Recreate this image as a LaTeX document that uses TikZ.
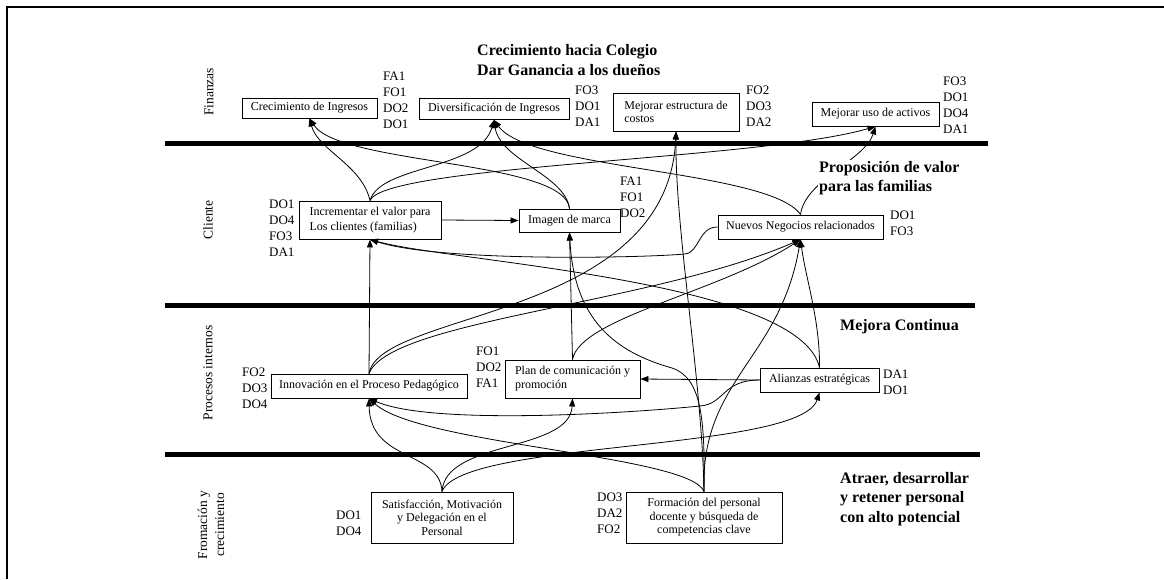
\documentclass[tikz,border=0pt]{standalone}
\usepackage{fontspec}
\setmainfont{Liberation Serif}
\usetikzlibrary{arrows.meta}
\begin{document}
\begin{tikzpicture}[x=1pt,y=-1pt,
  box/.style={draw, line width=0.9pt, fill=white, inner sep=0pt, align=left,
    font=\fontsize{12}{14}\selectfont},
  codes/.style={anchor=west, inner sep=0pt, align=left, font=\fontsize{13}{16}\selectfont},
  head/.style={anchor=west, inner sep=0pt, align=left, font=\fontsize{16}{19.5}\selectfont\bfseries},
  lane/.style={rotate=90, inner sep=0pt, align=center, font=\fontsize{13.5}{17}\selectfont},
  divider/.style={line width=5pt},
  link/.style={line width=0.8pt, -{Triangle[length=8pt,width=6pt]}},
]
\useasboundingbox (0,0) rectangle (1164,579);

% outer frame
\draw[line width=2.2pt] (7,579) -- (7,7) -- (1164,7);

% perspective dividers
\draw[divider] (165,143) -- (988,143);
\draw[divider] (165,305) -- (975,305);
\draw[divider] (165,454) -- (980,454);

% perspective names
\node[lane] (lFin) at (209,92) {Finanzas};
\node[lane] (lCli) at (208,220) {Cliente};
\node[lane] (lPro) at (208,373) {Procesos internos};
\node[lane] (lFor) at (211,525) {Fromación y\\crecimiento};

% objectives
\node[box, minimum width=135pt, minimum height=20pt] (creci) at (309.5,108) {Crecimiento de Ingresos};
\node[box, minimum width=150pt, minimum height=21pt] (divers) at (494,109) {Diversificación de Ingresos};
\node[box, minimum width=126pt, minimum height=38pt, font=\fontsize{12}{12.5}\selectfont] (mejEst) at (676,112) {Mejorar estructura de\\costos};
\node[box, minimum width=127pt, minimum height=24pt] (uso) at (875.5,114) {Mejorar uso de activos};

\node[box, minimum width=142pt, minimum height=38pt, font=\fontsize{12}{15}\selectfont] (incr) at (370,220) {Incrementar el valor para\\Los clientes (familias)};
\node[box, minimum width=101pt, minimum height=23pt] (imagen) at (569.5,220.5) {Imagen de marca};
\node[box, minimum width=165pt, minimum height=24pt] (nuevos) at (800.5,227) {Nuevos Negocios relacionados};

\node[box, minimum width=196pt, minimum height=24pt] (innov) at (369,386) {Innovación en el Proceso Pedagógico};
\node[box, minimum width=135pt, minimum height=38pt] (plan) at (572.5,379) {Plan de comunicación y\\promoción};
\node[box, minimum width=119pt, minimum height=24pt] (alianzas) at (819.5,380) {Alianzas estratégicas};

\node[box, align=center, minimum width=142pt, minimum height=51pt, font=\fontsize{12}{13.5}\selectfont] (satisf) at (442,517.5) {Satisfacción, Motivación\\y Delegación en el\\Personal};
\node[box, align=center, minimum width=156pt, minimum height=51pt, font=\fontsize{12}{13.5}\selectfont] (formacion) at (704,517.5) {Formación del personal\\docente y búsqueda de\\competencias clave};

% strategy codes
\node[codes] (kCreci) at (383,100) {FA1\\FO1\\DO2\\DO1};
\node[codes] (kDivers) at (575,106) {FO3\\DO1\\DA1};
\node[codes] (kMejEst) at (746,106) {FO2\\DO3\\DA2};
\node[codes] (kUso) at (943,105) {FO3\\DO1\\DO4\\DA1};
\node[codes] (kIncr) at (269,228) {DO1\\DO4\\FO3\\DA1};
\node[codes] (kImagen) at (620,197) {FA1\\FO1\\DO2};
\node[codes] (kNuevos) at (890,223) {DO1\\FO3};
\node[codes] (kInnov) at (242,388) {FO2\\DO3\\DO4};
\node[codes] (kPlan) at (476,367) {FO1\\DO2\\FA1};
\node[codes] (kAlianzas) at (883,382.5) {DA1\\DO1};
\node[codes] (kSatisf) at (336,523.5) {DO1\\DO4};
\node[codes] (kFormacion) at (597,513) {DO3\\DA2\\FO2};

% cause-effect links
\draw[link] (incr.north) .. controls (362,165) and (318,150) .. (creci.south);
\draw[link] (incr.north) .. controls (380,165) and (480,170) .. (divers.south);
\draw[link] (incr.north) .. controls (385,165) and (760,160) .. (uso.south);
\draw[link] (imagen.north) .. controls (565,160) and (340,165) .. (creci.south);
\draw[link] (imagen.north) .. controls (565,175) and (500,160) .. (divers.south);
\draw[link] (nuevos.north) .. controls (770,170) and (530,170) .. (divers.south);
\draw[link] (nuevos.north) .. controls (805,180) and (865,160) .. (uso.south);
\draw[link] (incr.east) -- (imagen.west);

\draw[link] (innov.north) -- (incr.south);
\draw[link] (innov.north) .. controls (380,310) and (668,320) .. (mejEst.south);
\draw[link] (innov.north) .. controls (390,320) and (650,305) .. (nuevos.south);
\draw[link] (plan.north) -- (imagen.south);
\draw[link] (plan.north) .. controls (580,318) and (720,292) .. (nuevos.south);
\draw[link] (alianzas.north) .. controls (820,320) and (806,280) .. (nuevos.south);
\draw[link] (alianzas.north) .. controls (800,280) and (450,262) .. (incr.south);
\draw[link] (nuevos.west) .. controls (698,227) and (700,252) .. (685,254)
  .. controls (640,258) and (440,262) .. (incr.south);
\draw[link] (alianzas.west) -- (plan.east);
\draw[link] (alianzas.west) .. controls (722,380) and (725,404) .. (700,406)
  .. controls (620,414) and (430,425) .. (innov.south);

\draw[link] (satisf.north) .. controls (440,450) and (370,462) .. (innov.south);
\draw[link] (satisf.north) .. controls (445,440) and (570,452) .. (plan.south);
\draw[link] (satisf.north) .. controls (462,440) and (800,452) .. (alianzas.south);
\draw[link] (formacion.north) .. controls (702,380) and (675,230) .. (mejEst.south);
\draw[link] (formacion.north) .. controls (700,380) and (780,360) .. (nuevos.south);
\draw[link] (formacion.north) .. controls (690,455) and (420,445) .. (innov.south);
\draw[link] (formacion.north) .. controls (705,420) and (702,378) .. (672,368)
  .. controls (615,352) and (574,320) .. (imagen.south);

% perspective themes
\node[head] (tFin) at (477,60) {Crecimiento hacia Colegio\\Dar Ganancia a los dueños};
\node[head, fill=white, inner sep=1pt] (tCli) at (818,178) {Proposición de valor\\para las familias};
\node[head] (tPro) at (840,327) {Mejora Continua};
\node[head] (tFor) at (840,499) {Atraer, desarrollar\\y retener personal\\con alto potencial};
\end{tikzpicture}
\end{document}
